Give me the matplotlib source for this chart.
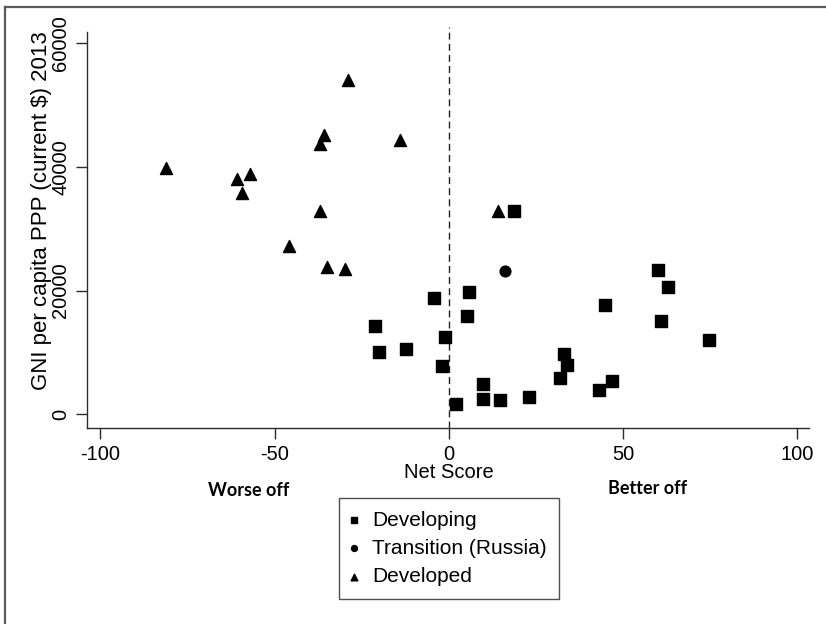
import matplotlib
matplotlib.use("Agg")
import matplotlib.pyplot as plt
from matplotlib.lines import Line2D

# ---- data ----
developing_x = [18.8, -21.2, -20.1, -12.3, -4.2, -1.1, -1.9, 5.1, 5.7, 2.0, 9.8, 9.8,
                14.7, 22.9, 31.8, 32.9, 33.9, 43.0, 46.7, 44.8, 59.9, 62.8, 60.9, 74.7]
developing_y = [32800, 14300, 10100, 10500, 18800, 12550, 7800, 15900, 19750, 1650, 4900, 2450,
                2250, 2800, 5850, 9700, 8000, 3900, 5350, 17700, 23350, 20550, 15100, 12000]

transition_x = [16.1]
transition_y = [23200]

developed_x = [-81.0, -60.9, -57.0, -59.3, -46.0, -36.9, -36.9, -35.9, -35.0, -29.9, -29.0, -13.9, 14.0]
developed_y = [39800, 38100, 38800, 35750, 27200, 32800, 43700, 45200, 23800, 23450, 54100, 44400, 32800]

xticks = [-100, -50, 0, 50, 100]
yticks = [0, 20000, 40000, 60000]
legend_labels = ["Developing", "Transition (Russia)", "Developed"]

W, H = 826, 624
FONT = ["Liberation Sans", "DejaVu Sans"]
plt.rcParams['font.family'] = FONT

fig = plt.figure(figsize=(W / 100, H / 100), dpi=100)
fig.patch.set_facecolor("white")

ax = fig.add_axes([87 / W, 1 - 428 / H, (809 - 87) / W, (428 - 32) / H])
ax.set_xlim(-103.8, 103.3)
ax.set_ylim(-2215, 61810)

for s in ["top", "right"]:
    ax.spines[s].set_visible(False)
for s in ["left", "bottom"]:
    ax.spines[s].set_color("#2a2a2a")
    ax.spines[s].set_linewidth(1.0)

ax.axvline(0, ymin=0, ymax=1.012, color="#222222", lw=1.0, ls=(0, (5, 3)), clip_on=False, zorder=1)

h1 = ax.scatter(developing_x, developing_y, marker="s", s=70, color="black", zorder=3)
h2 = ax.scatter(transition_x, transition_y, marker="o", s=60, color="black", zorder=3)
h3 = ax.scatter(developed_x, developed_y, marker="^", s=75, color="black", zorder=3)

ax.set_xticks(xticks)
ax.set_yticks(yticks)
ax.set_xticklabels([str(t) for t in xticks], fontsize=14.5)
ax.set_yticklabels([str(t) for t in yticks], fontsize=14.5, rotation=90, va="center")
ax.tick_params(axis="both", direction="out", length=8, width=1.0, color="#2a2a2a", pad=4)

fig.text(449 / W, 1 - 473 / H, "Net Score", ha="center", va="center", fontsize=14.5)
fig.text(42 / W, 1 - 211 / H, "GNI per capita PPP (current $) 2013", rotation=90,
         ha="center", va="center", fontsize=16)

fig.text(249 / W, 1 - 490 / H, "Worse off", ha="center", va="center", fontsize=13,
         fontweight="bold", family=["Lato", "DejaVu Sans"])
fig.text(648 / W, 1 - 489 / H, "Better off", ha="center", va="center", fontsize=13,
         fontweight="bold", family=["Lato", "DejaVu Sans"])

leg = ax.legend([h1, h2, h3], legend_labels, loc="upper left",
                bbox_to_anchor=(339 / W, 1 - 498 / H), bbox_transform=fig.transFigure,
                borderaxespad=0, fancybox=False, frameon=True, fontsize=15,
                markerscale=0.55, handlelength=0.2, handletextpad=0.8,
                borderpad=0.6, labelspacing=0.45, scatterpoints=1)
leg.get_frame().set_edgecolor("#222222")
leg.get_frame().set_linewidth(1.0)

# outer frame lines (left and top)
fig.add_artist(Line2D([5 / W, 5 / W], [0, 1 - 7 / H], transform=fig.transFigure,
                      color="#5a5a5a", lw=1.6))
fig.add_artist(Line2D([5 / W, 1], [1 - 7 / H, 1 - 7 / H], transform=fig.transFigure,
                      color="#5a5a5a", lw=1.6))

fig.savefig("out.png", dpi=100, facecolor="white")
